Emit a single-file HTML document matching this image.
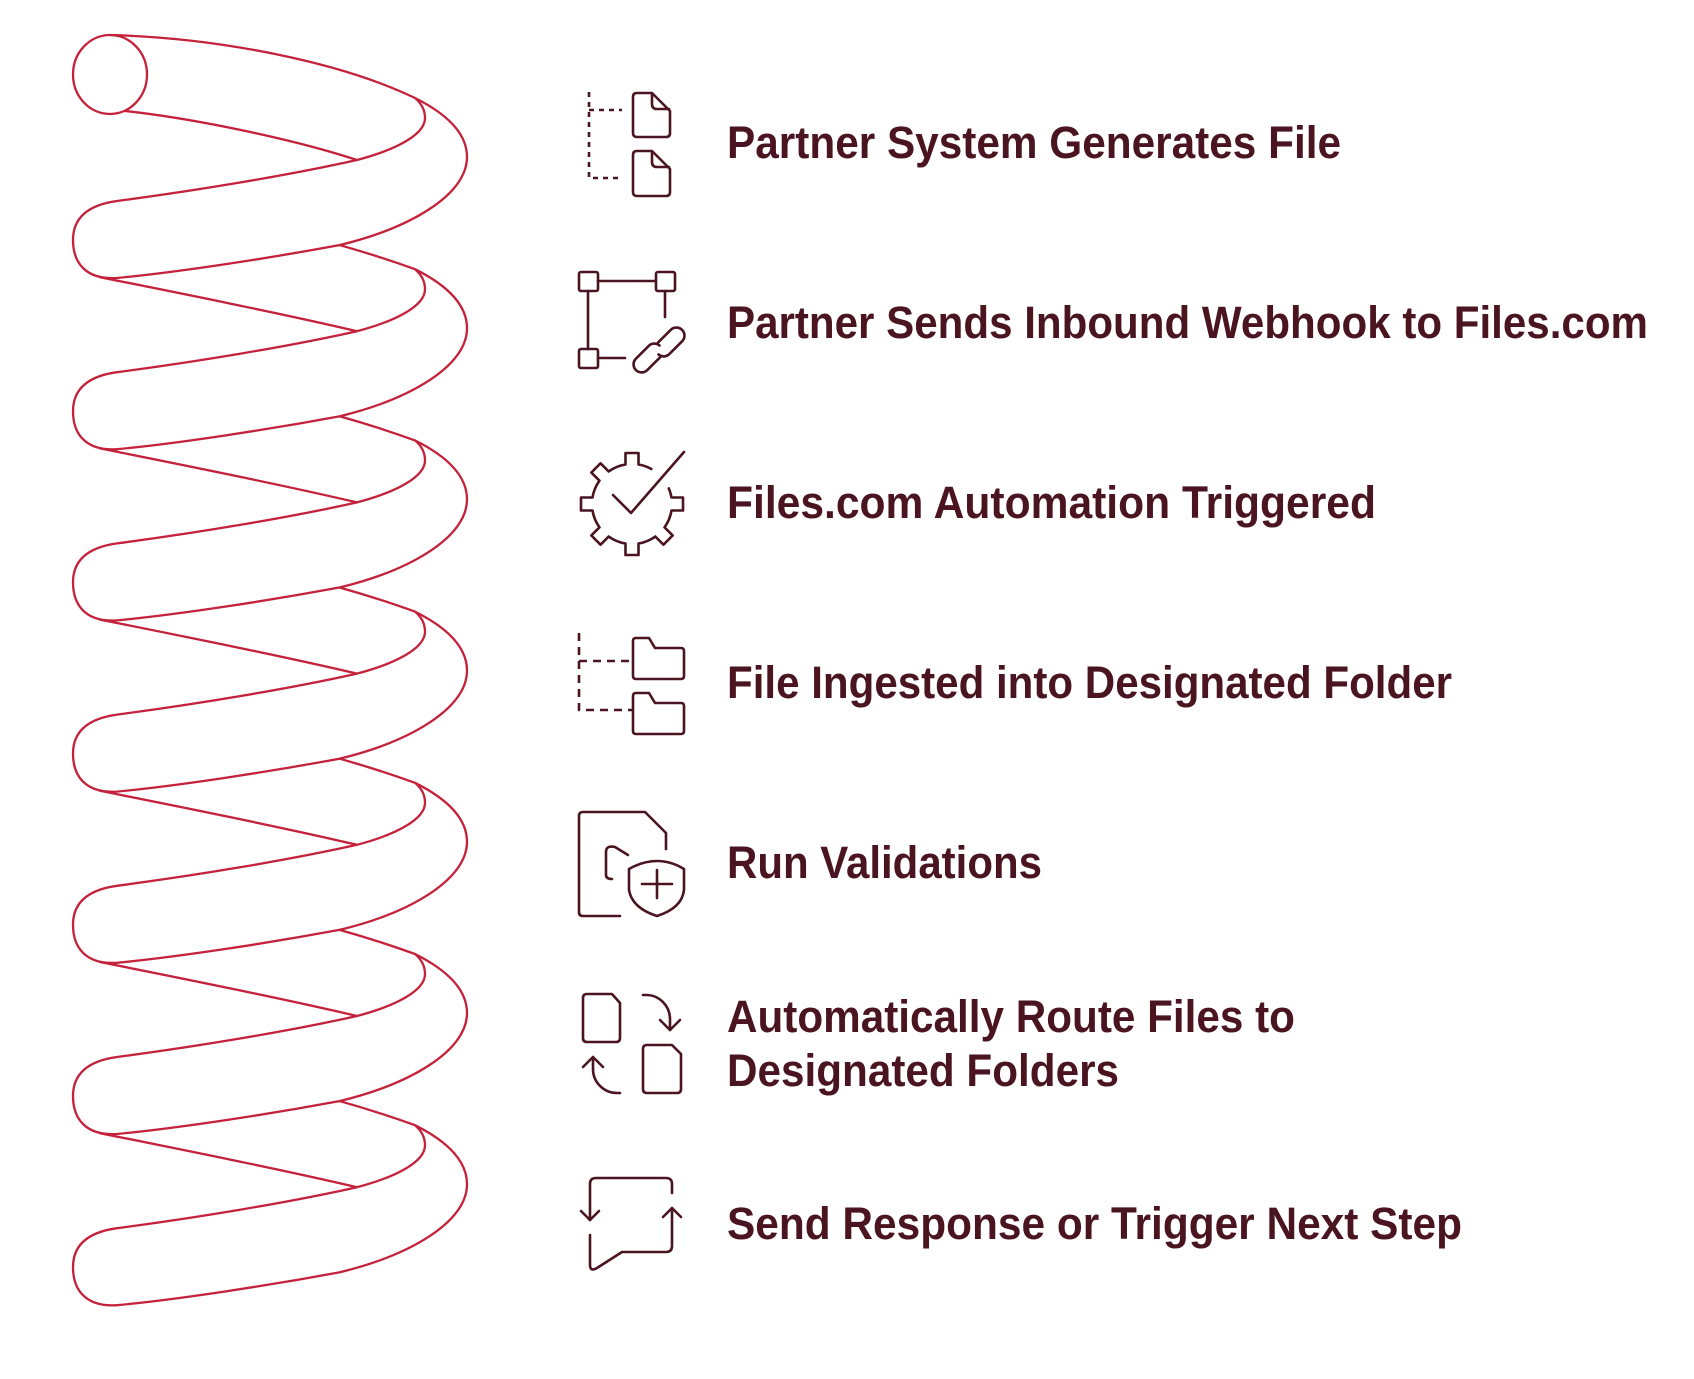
<!DOCTYPE html>
<html>
<head>
<meta charset="utf-8">
<style>
html,body{margin:0;padding:0;background:#ffffff;}
svg{display:block;}
text{font-family:"Liberation Sans",Arial,sans-serif;font-weight:bold;font-size:45px;fill:#4a1520;}
</style>
</head>
<body>
<svg width="1694" height="1379" viewBox="0 0 1694 1379" xmlns="http://www.w3.org/2000/svg">
<defs>
  <path id="body" d="M340,74 C365,81 390,89 415,98 C445,113 467,132 467,157 C467,195 410,228 340,245 C270,258 180,272 117,278 C85,280 73,262 73,240 C73,218 88,205 117,201 C200,190 290,175 357,160 C395,150 425,135 425,118 C425,110 421,103 415,98"/>
  <path id="back" d="M100,106 C180,122 280,142 357,160"/>
</defs>

<!-- Coil -->
<g fill="none" stroke="#c4213a" stroke-width="2.3" stroke-linejoin="round" stroke-linecap="round">
  <ellipse cx="110" cy="74.5" rx="37" ry="39.5"/>
  <path d="M110,35 C220,38 340,62 415,98 C445,113 467,132 467,157 C467,195 410,228 340,245 C270,258 180,272 117,278 C85,280 73,262 73,240 C73,218 88,205 117,201 C200,190 290,175 357,160 C395,150 425,135 425,118 C425,110 421,103 415,98"/>
  <path d="M125,111 C190,118 290,138 357,160"/>
  <g transform="translate(0,171.2)"><use href="#body"/><use href="#back"/></g>
  <g transform="translate(0,342.4)"><use href="#body"/><use href="#back"/></g>
  <g transform="translate(0,513.6)"><use href="#body"/><use href="#back"/></g>
  <g transform="translate(0,684.8)"><use href="#body"/><use href="#back"/></g>
  <g transform="translate(0,856)"><use href="#body"/><use href="#back"/></g>
  <g transform="translate(0,1027.2)"><use href="#body"/><use href="#back"/></g>
</g>

<!-- Icons -->
<g fill="none" stroke="#4a1520" stroke-width="2.6" stroke-linejoin="round" stroke-linecap="round">
  <!-- Icon 1: dashed tree with files -->
  <path d="M589,92 L589,178 L622,178" stroke-dasharray="5 5" stroke-linecap="butt"/>
  <path d="M589,110 L622,110" stroke-dasharray="5 5" stroke-linecap="butt"/>
  <path d="M637,93 L652,93 L670,111 L670,133 Q670,137 666,137 L637,137 Q633,137 633,133 L633,97 Q633,93 637,93 Z"/>
  <path d="M652,94 L652,104 Q652,109 657,109 L669,109"/>
  <path d="M637,151 L652,151 L670,169 L670,192 Q670,196 666,196 L637,196 Q633,196 633,192 L633,155 Q633,151 637,151 Z"/>
  <path d="M652,152 L652,162 Q652,167 657,167 L669,167"/>

  <!-- Icon 2: squares + link -->
  <rect x="579" y="272" width="19" height="19" rx="2"/>
  <rect x="656" y="272" width="19" height="19" rx="2"/>
  <rect x="579" y="349" width="19" height="19" rx="2"/>
  <path d="M598,281 L656,281 M588,291 L588,349 M665,291 L665,317 M598,358 L625,358"/>
  <path d="M657.9,342.7 L670.7,329.9 A8,8 0 0 1 682.1,341.3 L669.3,354.1 A8,8 0 0 1 658.5,354.5"/>
  <path d="M660.1,357.3 L647.3,370.1 A8,8 0 0 1 635.9,358.7 L648.7,345.9 A8,8 0 0 1 659.5,345.5"/>

  <!-- Icon 3: gear with check -->
  <path d="M668.8,488.4 A40,40 0 0 1 671.5,497.5 L683,497.5 L683,510.5 L671.5,510.5 A40,40 0 0 1 664.53,527.33 L672.66,535.46 L663.46,544.66 L655.33,536.53 A40,40 0 0 1 638.5,543.5 L638.5,555 L625.5,555 L625.5,543.5 A40,40 0 0 1 608.67,536.53 L600.54,544.66 L591.34,535.46 L599.47,527.33 A40,40 0 0 1 592.5,510.5 L581,510.5 L581,497.5 L592.5,497.5 A40,40 0 0 1 599.47,480.67 L591.34,472.54 L600.54,463.34 L608.67,471.47 A40,40 0 0 1 625.5,464.5 L625.5,453 L638.5,453 L638.5,464.5 A40,40 0 0 1 651.4,469"/>
  <path d="M613,495 L631,513 L684,452"/>

  <!-- Icon 4: dashed tree with folders -->
  <path d="M579,633 L579,710 L633,710" stroke-dasharray="8 6" stroke-linecap="butt"/>
  <path d="M579,661 L633,661" stroke-dasharray="8 6" stroke-linecap="butt"/>
  <path d="M633,676 L633,641 Q633,638 636,638 L649,638 L655,648 L681,648 Q684,648 684,651 L684,676 Q684,679 681,679 L636,679 Q633,679 633,676 Z"/>
  <path d="M633,731 L633,696 Q633,693 636,693 L649,693 L655,703 L681,703 Q684,703 684,706 L684,731 Q684,734 681,734 L636,734 Q633,734 633,731 Z"/>

  <!-- Icon 5: file + shield -->
  <path d="M620,916 L583,916 Q579,916 579,912 L579,816 Q579,812 583,812 L645,812 L666,833 L666,849"/>
  <path d="M628,855 L615,847 Q606,845 606,852 L606,875 Q606,879 612,879"/>
  <path d="M629,869 Q643,861 657,861 Q671,861 684,869 L684,890 Q682,908 657,916 Q632,908 629,890 Z"/>
  <path d="M642,884 L672,884 M657,870 L657,898"/>

  <!-- Icon 6: route files -->
  <path d="M587,994 L612,994 L620,1003 L620,1038 Q620,1042 616,1042 L587,1042 Q583,1042 583,1038 L583,998 Q583,994 587,994 Z"/>
  <path d="M647,1045 L672,1045 L681,1054 L681,1089 Q681,1093 677,1093 L647,1093 Q643,1093 643,1089 L643,1049 Q643,1045 647,1045 Z"/>
  <path d="M643,995 L646,995 A24,24 0 0 1 670,1019 L670,1030"/>
  <path d="M660,1020 L670,1030 L680,1020"/>
  <path d="M620,1093 L617,1093 A24,24 0 0 1 593,1069 L593,1057"/>
  <path d="M583,1067 L593,1057 L603,1067"/>

  <!-- Icon 7: chat with arrows -->
  <path d="M590,1220 L590,1184 Q590,1178 596,1178 L666,1178 Q672,1178 672,1184 L672,1193"/>
  <path d="M581,1211 L590,1220 L599,1211"/>
  <path d="M672,1208 L672,1246 Q672,1252 666,1252 L622,1252 L597,1268 Q590,1272 590,1265 L590,1235"/>
  <path d="M663,1217 L672,1208 L681,1217"/>
</g>

<!-- Labels -->
<text x="727" y="158" textLength="614" lengthAdjust="spacingAndGlyphs">Partner System Generates File</text>
<text x="727" y="338" textLength="921" lengthAdjust="spacingAndGlyphs">Partner Sends Inbound Webhook to Files.com</text>
<text x="727" y="518" textLength="649" lengthAdjust="spacingAndGlyphs">Files.com Automation Triggered</text>
<text x="727" y="698" textLength="725" lengthAdjust="spacingAndGlyphs">File Ingested into Designated Folder</text>
<text x="727" y="878" textLength="315" lengthAdjust="spacingAndGlyphs">Run Validations</text>
<text x="727" y="1032" textLength="568" lengthAdjust="spacingAndGlyphs">Automatically Route Files to</text>
<text x="727" y="1086" textLength="392" lengthAdjust="spacingAndGlyphs">Designated Folders</text>
<text x="727" y="1239" textLength="735" lengthAdjust="spacingAndGlyphs">Send Response or Trigger Next Step</text>
</svg>
</body>
</html>
